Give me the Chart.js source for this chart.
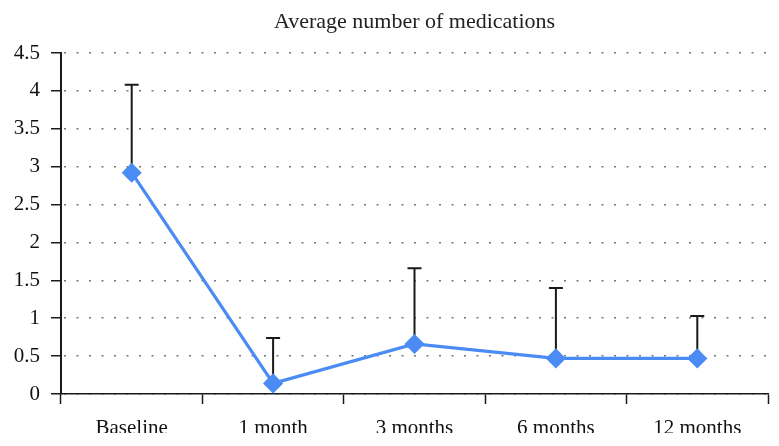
<!DOCTYPE html>
<html>
<head>
<meta charset="utf-8">
<script src="https://cdn.jsdelivr.net/npm/chart.js@4/dist/chart.umd.min.js"></script>
<style>
  html, body { margin: 0; padding: 0; background: #fff; }
  #wrap { width: 779px; height: 446px; }
  canvas { display: block; }
</style>
</head>
<body>
<div id="wrap"><canvas id="chart" width="779" height="433"></canvas></div>
<script>
// data
const categories = ['Baseline', '1 month', '3 months', '6 months', '12 months'];
const meanValues = [2.92, 0.14, 0.66, 0.47, 0.47];
const upperValues = [4.08, 0.74, 1.66, 1.40, 1.03];
const yTickLabels = ['0', '0.5', '1', '1.5', '2', '2.5', '3', '3.5', '4', '4.5'];

const serif = "'Liberation Serif', 'DejaVu Serif', serif";

// upper error bars, drawn under the markers
const errorBars = {
  id: 'errorBars',
  beforeDatasetsDraw(chart) {
    const ctx = chart.ctx;
    const xs = chart.scales.x;
    const ys = chart.scales.y;
    ctx.save();
    ctx.strokeStyle = '#1a1a1a';
    ctx.lineWidth = 2;
    meanValues.forEach((v, i) => {
      const x = xs.getPixelForValue(i);
      const y0 = ys.getPixelForValue(v);
      const y1 = ys.getPixelForValue(upperValues[i]);
      ctx.beginPath();
      ctx.moveTo(x, y0);
      ctx.lineTo(x, y1);
      ctx.moveTo(x - 7, y1);
      ctx.lineTo(x + 7, y1);
      ctx.stroke();
    });
    ctx.restore();
  }
};

new Chart(document.getElementById('chart'), {
  type: 'line',
  data: {
    labels: categories,
    datasets: [{
      data: meanValues,
      borderColor: '#4a8cf4',
      backgroundColor: '#4a8cf4',
      borderWidth: 3.2,
      pointStyle: 'rectRot',
      pointRadius: 9,
      pointBorderWidth: 1.5,
      pointBorderColor: '#4a8cf4',
      tension: 0
    }]
  },
  options: {
    responsive: false,
    animation: false,
    layout: { padding: { top: 0, right: 11, left: 0, bottom: 0 } },
    plugins: {
      legend: { display: false },
      tooltip: { enabled: false },
      title: {
        display: true,
        fullSize: false,
        text: 'Average number of medications',
        color: '#222',
        font: { family: serif, size: 22, weight: 'normal' },
        padding: { top: 9, bottom: 17.6 }
      }
    },
    scales: {
      x: {
        offset: true,
        grid: {
          offset: true,
          drawOnChartArea: false,
          drawTicks: true,
          tickLength: 10,
          tickColor: '#1a1a1a',
          tickWidth: 1.5
        },
        border: { color: '#1a1a1a', width: 1.5 },
        ticks: {
          color: '#111',
          padding: 12,
          maxRotation: 0,
          font: { family: serif, size: 21 }
        },
        afterFit(scale) { scale.height = 39; }
      },
      y: {
        min: 0,
        max: 4.5,
        ticks: {
          stepSize: 0.5,
          color: '#111',
          padding: 11,
          font: { family: serif, size: 21 },
          callback: (v, i) => yTickLabels[i]
        },
        grid: {
          color: '#777',
          lineWidth: 1.5,
          drawTicks: true,
          tickLength: 10,
          tickColor: '#1a1a1a',
          tickWidth: 1.5,
          tickBorderDash: []
        },
        border: { color: '#1a1a1a', width: 2, dash: [2, 10.5], dashOffset: -2 },
        afterFit(scale) { scale.width = 61; }
      }
    }
  },
  plugins: [errorBars]
});
</script>
</body>
</html>
